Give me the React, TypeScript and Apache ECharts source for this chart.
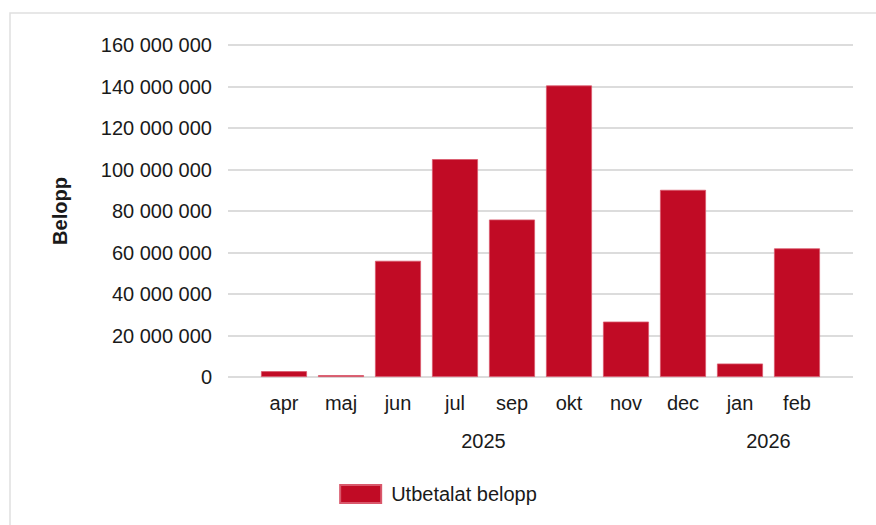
import React, { useEffect, useRef } from "react";
import * as echarts from "echarts";

const months = ["apr", "maj", "jun", "jul", "sep", "okt", "nov", "dec", "jan", "feb"];
const monthYears = ["2025", "2025", "2025", "2025", "2025", "2025", "2025", "2025", "2026", "2026"];
const paidAmounts = [2800000, 900000, 56000000, 105000000, 75900000, 140500000, 26700000, 90200000, 6500000, 62000000];
const yMax = 160000000;
const yStep = 20000000;
const seriesName = "Utbetalat belopp";
const yAxisName = "Belopp";

const FONT = "'Liberation Sans', Arial, sans-serif";
const TEXT = "#1a1a1a";
const BAR = "#C10B25";

const fmt = (v: number) => String(Math.round(v)).replace(/\B(?=(\d{3})+(?!\d))/g, " ");

export default function App() {
  const ref = useRef<HTMLDivElement>(null);
  useEffect(() => {
    if (!ref.current) return;
    const chart = echarts.init(ref.current, undefined, { renderer: "svg" });
    chart.setOption({
      animation: false,
      backgroundColor: "#ffffff",
      textStyle: { fontFamily: FONT },
      grid: [
        { left: 228, right: 23, top: 45, bottom: 148 },
        { left: 255.5, right: 50.5, top: 45, bottom: 148 },
      ],
      xAxis: [
        { gridIndex: 0, type: "category", data: months, show: false },
        {
          gridIndex: 1,
          type: "category",
          data: months,
          axisLine: { show: false },
          axisTick: { show: false },
          axisLabel: { fontSize: 20, color: TEXT, margin: 16, fontFamily: FONT },
        },
      ],
      yAxis: [
        {
          gridIndex: 0,
          type: "value",
          min: 0,
          max: yMax,
          interval: yStep,
          name: yAxisName,
          nameLocation: "middle",
          nameRotate: 90,
          nameGap: 158,
          nameTextStyle: { fontSize: 20, fontWeight: "bold", color: TEXT, fontFamily: FONT },
          axisLine: { show: false },
          axisTick: { show: false },
          axisLabel: { fontSize: 20, color: TEXT, margin: 16, formatter: fmt, fontFamily: FONT },
          splitLine: { lineStyle: { color: "#dcdcdc", width: 2 } },
        },
        { gridIndex: 1, type: "value", min: 0, max: yMax, interval: yStep, show: false, splitLine: { show: false } },
      ],
      legend: {
        bottom: 16,
        left: "center",
        itemWidth: 41,
        itemHeight: 18,
        icon: "rect",
        textStyle: { fontSize: 20, color: TEXT, fontFamily: FONT, padding: [0, 0, 0, 5] },
        data: [seriesName],
      },
      series: [
        {
          name: seriesName,
          type: "bar",
          xAxisIndex: 1,
          yAxisIndex: 1,
          data: paidAmounts,
          barWidth: 46,
          itemStyle: { color: BAR, borderColor: "#d9586b", borderWidth: 0.8 },
        },
      ],
    });

    const groups: { label: string; first: number; last: number }[] = [];
    monthYears.forEach((y, i) => {
      const g = groups[groups.length - 1];
      if (g && g.label === y) g.last = i;
      else groups.push({ label: y, first: i, last: i });
    });
    const yearTexts = groups.map((g) => {
      const a = chart.convertToPixel({ xAxisIndex: 1 }, months[g.first]) as number;
      const b = chart.convertToPixel({ xAxisIndex: 1 }, months[g.last]) as number;
      return {
        type: "text",
        x: (a + b) / 2,
        y: 441,
        style: { text: g.label, fontSize: 20, fill: TEXT, fontFamily: FONT, align: "center", verticalAlign: "middle" },
      };
    });
    chart.setOption({
      graphic: [
        {
          type: "rect",
          shape: { x: 10, y: 13, width: 1000, height: 1000 },
          style: { fill: "none", stroke: "#e0e0e0", lineWidth: 1.5 },
          silent: true,
        },
        ...yearTexts,
      ],
    });
    return () => chart.dispose();
  }, []);
  return <div ref={ref} style={{ position: "absolute", left: 0, top: 0, width: 876, height: 525 }} />;
}
